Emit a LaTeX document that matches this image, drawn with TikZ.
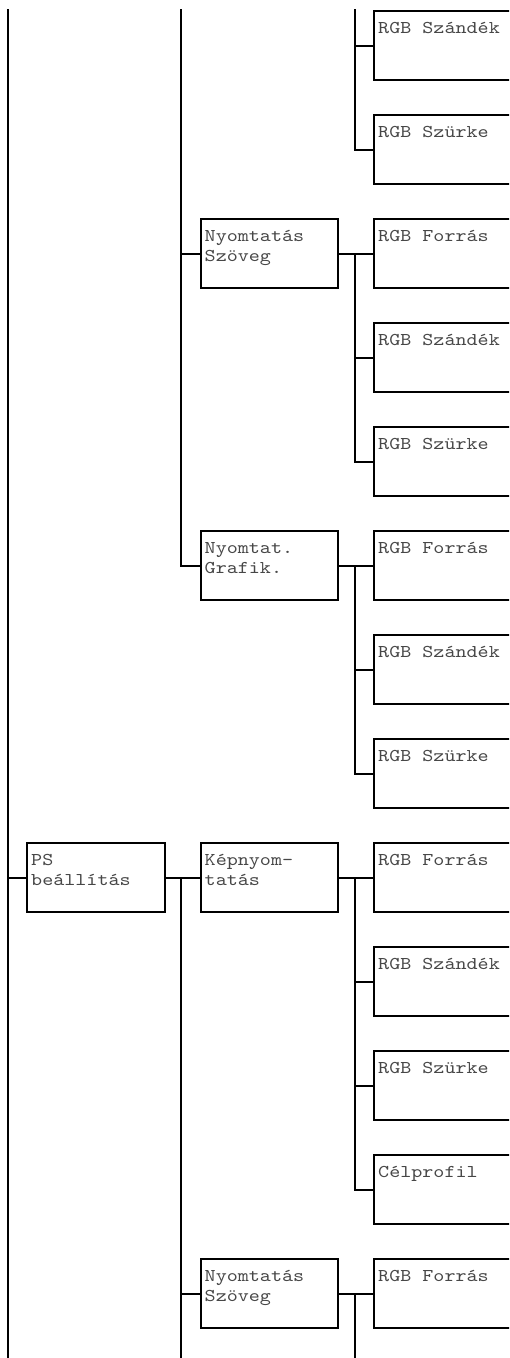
\documentclass[tikz,border=0pt]{standalone}
\usepackage{fontspec}
\newfontfamily\cour[FakeStretch=1.17]{lmmono10-regular.otf}
\newcommand\twol[2]{\parbox[t]{140pt}{#1\\#2}}
\begin{document}
\begin{tikzpicture}[x=1pt,y=-1pt,
  conn/.style={line width=2pt},
  box/.style={draw, line width=2pt, anchor=north west, inner sep=0pt, minimum height=69pt},
  midbox/.style={box, minimum width=137.5pt},
  rbox/.style={box, minimum width=160pt},
  lbl/.style={anchor=base west, inner sep=0pt, text=black!72, font=\cour\fontsize{18}{20}\selectfont},
]
\useasboundingbox (0,0) rectangle (509,1358);
\clip (0,0) rectangle (509,1358);

% right column
\foreach \k/\t in {0/RGB Szándék,1/RGB Szürke,2/RGB Forrás,3/RGB Szándék,4/RGB Szürke,5/RGB Forrás,6/RGB Szándék,7/RGB Szürke,8/RGB Forrás,9/RGB Szándék,10/RGB Szürke,11/Célprofil,12/RGB Forrás}{
  \node[rbox] (r\k) at (373,10+104*\k) {};
  \node[lbl] (r\k t) at ([shift={(5,23)}]r\k.north west) {\t};
}

% middle column
\node[midbox] (m1) at (199.5,218) {};
\node[lbl] (m1t) at ([shift={(5,23)}]m1.north west) {\twol{Nyomtatás}{Szöveg}};
\node[midbox] (m2) at (199.5,530) {};
\node[lbl] (m2t) at ([shift={(5,23)}]m2.north west) {\twol{Nyomtat.}{Grafik.}};
\node[midbox] (m3) at (199.5,842) {};
\node[lbl] (m3t) at ([shift={(5,23)}]m3.north west) {\twol{Képnyom-}{tatás}};
\node[midbox] (m4) at (199.5,1258) {};
\node[lbl] (m4t) at ([shift={(5,23)}]m4.north west) {\twol{Nyomtatás}{Szöveg}};

% left column
\node[midbox] (ps) at (26,842) {};
\node[lbl] (pst) at ([shift={(5,23)}]ps.north west) {\twol{PS}{beállítás}};

% trunk coordinates
\coordinate (t1top) at (8,9);
\coordinate (t1bot) at (8,1358);
\coordinate (t2top) at (181,9);
\coordinate (t2bot) at (181,1358);
\coordinate (t3top) at (354.5,9);
\coordinate (t3bot) at (354.5,1358);

% left trunk
\draw[conn] (t1top) -- (t1bot);
\draw[conn] (t1top |- ps.west) -- (ps.west);

% middle trunk
\draw[conn] (t2top) |- (m2.west);
\draw[conn] (t2top |- m1.west) -- (m1.west);
\draw[conn] (ps.east) -- (m3.west);
\draw[conn] (t2top |- m3.west) -- (t2bot);
\draw[conn] (t2top |- m4.west) -- (m4.west);

% right trunks
\draw[conn] (t3top) |- (r1.west);
\draw[conn] (t3top |- r0.west) -- (r0.west);

\draw[conn] (m1.east) -- (r2.west);
\draw[conn] (t3top |- r2.west) |- (r4.west);
\draw[conn] (t3top |- r3.west) -- (r3.west);

\draw[conn] (m2.east) -- (r5.west);
\draw[conn] (t3top |- r5.west) |- (r7.west);
\draw[conn] (t3top |- r6.west) -- (r6.west);

\draw[conn] (m3.east) -- (r8.west);
\draw[conn] (t3top |- r8.west) |- (r11.west);
\draw[conn] (t3top |- r9.west) -- (r9.west);
\draw[conn] (t3top |- r10.west) -- (r10.west);

\draw[conn] (m4.east) -- (r12.west);
\draw[conn] (t3top |- r12.west) -- (t3bot);
\end{tikzpicture}
\end{document}
